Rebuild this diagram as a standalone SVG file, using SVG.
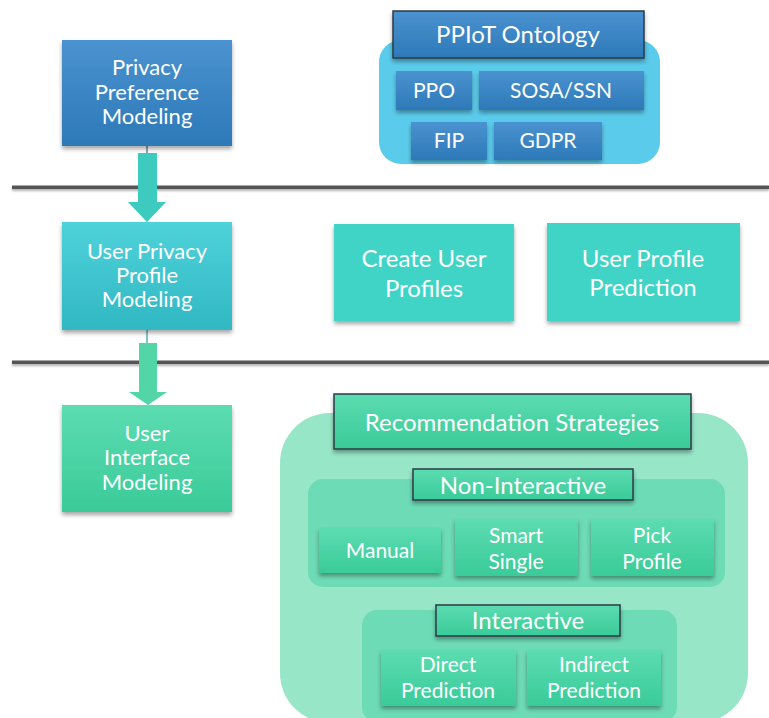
<svg xmlns="http://www.w3.org/2000/svg" width="769" height="718" viewBox="0 0 769 718">
  <defs>
    <linearGradient id="gBlue" x1="0" y1="0" x2="0" y2="1">
      <stop offset="0" stop-color="#4B92D0"/>
      <stop offset="1" stop-color="#2D79B8"/>
    </linearGradient>
    <linearGradient id="gTeal" x1="0" y1="0" x2="0" y2="1">
      <stop offset="0" stop-color="#4FD2DA"/>
      <stop offset="1" stop-color="#30B8C3"/>
    </linearGradient>
    <linearGradient id="gGreen" x1="0" y1="0" x2="0" y2="1">
      <stop offset="0" stop-color="#5CDCB1"/>
      <stop offset="1" stop-color="#3ACB99"/>
    </linearGradient>
    <filter id="shadow" x="-10%" y="-10%" width="120%" height="130%">
      <feDropShadow dx="0" dy="3" stdDeviation="2" flood-color="#000" flood-opacity="0.35"/>
    </filter>
    <filter id="lineShadow" filterUnits="userSpaceOnUse" x="0" y="0" width="769" height="718">
      <feDropShadow dx="0" dy="2" stdDeviation="1.2" flood-color="#000" flood-opacity="0.3"/>
    </filter>
  </defs>
  <style>
    text { font-family: Lato, "Open Sans", "DejaVu Sans", sans-serif; fill: #fff; text-anchor: middle; }
    .big { font-size: 24px; }
    .mid { font-size: 22px; }
    .sm { font-size: 21px; }
    .blue { fill: url(#gBlue); filter: url(#shadow); }
    .teal { fill: url(#gTeal); filter: url(#shadow); }
    .green { fill: url(#gGreen); filter: url(#shadow); }
    .flat { fill: #41D4C6; filter: url(#shadow); }
    .title { stroke: #2E3B45; stroke-width: 1.5; }
    .sep { fill: #555; filter: url(#lineShadow); }
  </style>

  <!-- layer separators -->
  <g id="separators">
    <rect class="sep" x="12" y="185.5" width="757" height="3.5"/>
    <rect class="sep" x="12" y="360.5" width="757" height="3.5"/>
  </g>

  <!-- flow between the three modeling layers -->
  <g id="connectors">
    <line x1="147" y1="146" x2="147" y2="154" stroke="#3B6A8E" stroke-width="1.2"/>
    <polygon points="138,153 157,153 157,202 166,202 147,222 128,202 138,202" fill="#3CCBBE"/>
    <line x1="147" y1="330" x2="147" y2="344" stroke="#2C9FA8" stroke-width="1.2"/>
    <polygon points="139,343 157,343 157,392 167,392 148,405 129,392 139,392" fill="#52D6A8"/>
  </g>

  <g id="privacy-preference-modeling">
    <rect class="blue" x="62" y="40" width="170" height="106"/>
    <text class="mid" x="147" y="75">Privacy</text>
    <text class="mid" x="147" y="100">Preference</text>
    <text class="mid" x="147" y="124">Modeling</text>
  </g>

  <g id="ppiot-ontology">
    <rect x="379" y="40" width="281" height="124" rx="22" fill="#5BCBEC"/>
    <rect class="blue title" x="393" y="11" width="251" height="47"/>
    <text class="big" x="518" y="43">PPIoT Ontology</text>
  </g>
  <g id="ppo">
    <rect class="blue" x="396" y="71" width="76" height="39"/>
    <text class="sm" x="434" y="98">PPO</text>
  </g>
  <g id="sosa-ssn">
    <rect class="blue" x="479" y="71" width="165" height="39"/>
    <text class="sm" x="561" y="98">SOSA/SSN</text>
  </g>
  <g id="fip">
    <rect class="blue" x="411" y="122" width="76" height="38"/>
    <text class="sm" x="449" y="148">FIP</text>
  </g>
  <g id="gdpr">
    <rect class="blue" x="494" y="122" width="108" height="38"/>
    <text class="sm" x="548" y="148">GDPR</text>
  </g>

  <g id="user-privacy-profile-modeling">
    <rect class="teal" x="62" y="222" width="170" height="108"/>
    <text class="mid" x="147" y="259">User Privacy</text>
    <text class="mid" x="147" y="283">Profile</text>
    <text class="mid" x="147" y="307">Modeling</text>
  </g>
  <g id="create-user-profiles">
    <rect class="flat" x="334" y="224" width="180" height="97"/>
    <text class="big" x="424" y="267">Create User</text>
    <text class="big" x="424" y="297">Profiles</text>
  </g>
  <g id="user-profile-prediction">
    <rect class="flat" x="547" y="223" width="193" height="98"/>
    <text class="big" x="643" y="267">User Profile</text>
    <text class="big" x="643" y="296">Prediction</text>
  </g>

  <g id="user-interface-modeling">
    <rect class="green" x="62" y="405" width="170" height="107"/>
    <text class="mid" x="147" y="441">User</text>
    <text class="mid" x="147" y="465">Interface</text>
    <text class="mid" x="147" y="490">Modeling</text>
  </g>

  <g id="recommendation-strategies">
    <rect x="280" y="413" width="468" height="310" rx="50" fill="#98E6C8"/>
    <rect class="green title" x="334" y="394" width="357" height="55"/>
    <text class="big" x="512" y="431">Recommendation Strategies</text>
  </g>
  <g id="non-interactive">
    <rect x="308" y="479" width="417" height="108" rx="15" fill="#6DDBB6"/>
    <rect class="green title" x="413" y="469" width="220" height="31"/>
    <text class="big" x="523" y="494">Non-Interactive</text>
  </g>
  <g id="manual">
    <rect class="green" x="319" y="528" width="122" height="45"/>
    <text class="sm" x="380" y="558">Manual</text>
  </g>
  <g id="smart-single">
    <rect class="green" x="455" y="519" width="123" height="57"/>
    <text class="sm" x="516" y="543">Smart</text>
    <text class="sm" x="516" y="569">Single</text>
  </g>
  <g id="pick-profile">
    <rect class="green" x="591" y="519" width="123" height="57"/>
    <text class="sm" x="652" y="543">Pick</text>
    <text class="sm" x="652" y="569">Profile</text>
  </g>
  <g id="interactive">
    <rect x="362" y="610" width="315" height="112" rx="15" fill="#6DDBB6"/>
    <rect class="green title" x="436" y="605" width="184" height="31"/>
    <text class="big" x="528" y="629">Interactive</text>
  </g>
  <g id="direct-prediction">
    <rect class="green" x="381" y="650" width="135" height="56"/>
    <text class="sm" x="448" y="672">Direct</text>
    <text class="sm" x="448" y="698">Prediction</text>
  </g>
  <g id="indirect-prediction">
    <rect class="green" x="527" y="650" width="134" height="56"/>
    <text class="sm" x="594" y="672">Indirect</text>
    <text class="sm" x="594" y="698">Prediction</text>
  </g>
</svg>
